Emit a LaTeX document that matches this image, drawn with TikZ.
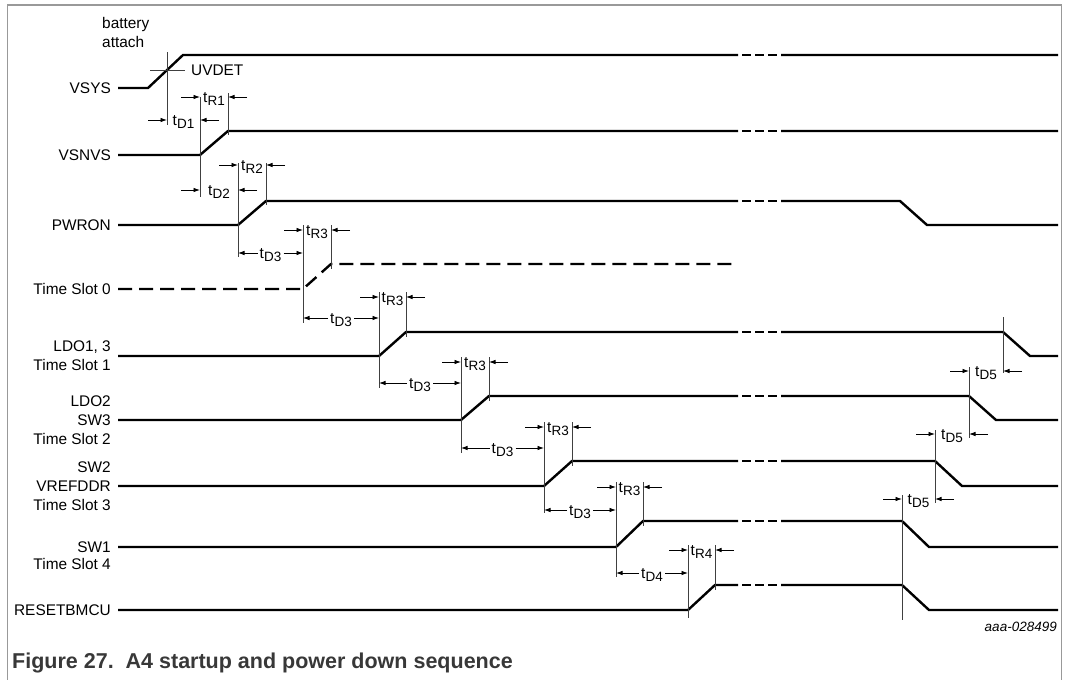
\documentclass[tikz,border=0pt]{standalone}
\usepackage{fontspec}
\setmainfont{Liberation Sans}
\usetikzlibrary{arrows.meta}
\newcommand\lab{\fontsize{15.4}{19}\selectfont}
\newcommand\tsb[1]{t\raisebox{-3.6pt}{\fontsize{13.5}{13.5}\selectfont #1}}
\tikzset{
  sig/.style={line width=2.4pt, line join=miter},
  brk/.style={line width=2.4pt, dash pattern=on 0pt off 4pt on 9pt off 4pt on 9pt off 4pt on 9pt off 4pt},
  dsig/.style={line width=2.4pt, dash pattern=on 14pt off 7pt},
  guide/.style={line width=0.8pt, black!75},
  dimarrow/.style={line width=0.8pt, -{Latex[length=6.5pt,width=4.5pt]}},
  siglab/.style={font=\lab, anchor=east, inner sep=0pt, align=right},
  tlab/.style={font=\lab, inner sep=0pt, anchor=base},
  frame/.style={line width=1.2pt, black!40},
}
% outside dimension arrows: x1 x2 y label name
\newcommand\odim[5]{%
  \draw[dimarrow] (#1-19,#3) -- (#1,#3);
  \draw[dimarrow] (#2+19,#3) -- (#2,#3);
  \node[tlab] (#5) at ({(#1+#2)/2},{#3+5}) {#4};}
% inside dimension arrows
\newcommand\idim[5]{%
  \node[tlab] (#5) at ({(#1+#2)/2},{#3+5}) {#4};
  \draw[dimarrow] ({(#1+#2)/2-13},#3) -- (#1,#3);
  \draw[dimarrow] ({(#1+#2)/2+13},#3) -- (#2,#3);}
% break in a high line at y
\newcommand\brkat[1]{\draw[brk] (738,#1) -- (781,#1);}

\begin{document}
\begin{tikzpicture}[x=1pt,y=-1pt]
\useasboundingbox (0,0) rectangle (1066,680);
\draw[frame] (7.5,680) -- (7.5,5) -- (1061.5,5) -- (1061.5,680);

% labels
\node[font=\lab, anchor=west, inner sep=0pt, align=left] (batt) at (102,32) {battery\\attach};
\node[siglab] (lvsys) at (111,88) {VSYS};
\node[siglab] (lvsnvs) at (111,155) {VSNVS};
\node[siglab] (lpwron) at (111,225) {PWRON};
\node[siglab] (lts0) at (111,289) {Time Slot 0};
\node[siglab] (lldo1) at (111,356) {LDO1, 3\\Time Slot 1};
\node[siglab] (lldo2) at (111,420) {LDO2\\SW3\\Time Slot 2};
\node[siglab] (lsw2) at (111,486) {SW2\\VREFDDR\\Time Slot 3};
\node[siglab] (lsw1) at (111,547) {SW1};
\node[siglab] (lts4) at (111,564) {Time Slot 4};
\node[siglab] (lrst) at (111,610) {RESETBMCU};
\node[font=\lab, anchor=west, inner sep=0pt] (uvdet) at (191,70) {UVDET};

% signals
\draw[sig] (118,88) -- (148,88) -- (183,55) -- (738,55) (781,55) -- (1058,55); \brkat{55}
\draw[sig] (118,155) -- (200,155) -- (228,131) -- (738,131) (781,131) -- (1058,131); \brkat{131}
\draw[sig] (118,225) -- (238,225) -- (266,201) -- (738,201) (781,201) -- (900,201) -- (927,225) -- (1058,225); \brkat{201}
\draw[dsig] (118,289) -- (303,289) -- (331,264) -- (738,264);
\draw[sig] (118,356) -- (379,356) -- (406,332) -- (738,332) (781,332) -- (1003,332) -- (1030,356) -- (1058,356); \brkat{332}
\draw[sig] (118,420) -- (461,420) -- (489,396) -- (738,396) (781,396) -- (969,396) -- (996,420) -- (1058,420); \brkat{396}
\draw[sig] (118,486) -- (544,486) -- (572,461) -- (738,461) (781,461) -- (935,461) -- (962,486) -- (1058,486); \brkat{461}
\draw[sig] (118,547) -- (616,547) -- (643,521) -- (738,521) (781,521) -- (902,521) -- (929,547) -- (1058,547); \brkat{521}
\draw[sig] (118,610) -- (688,610) -- (715,585) -- (738,585) (781,585) -- (902,585) -- (929,610) -- (1058,610); \brkat{585}

% guide lines
\draw[guide] (150,70) -- (185,70);
\draw[guide] (167,52) -- (167,125);
\draw[guide] (200,97) -- (200,197);
\draw[guide] (228,93) -- (228,135);
\draw[guide] (238,163) -- (238,257);
\draw[guide] (266,163) -- (266,205);
\draw[guide] (303,225) -- (303,323);
\draw[guide] (331,225) -- (331,269);
\draw[guide] (379,292) -- (379,388);
\draw[guide] (406,292) -- (406,337);
\draw[guide] (461,357) -- (461,453);
\draw[guide] (489,357) -- (489,401);
\draw[guide] (544,422) -- (544,513);
\draw[guide] (572,422) -- (572,466);
\draw[guide] (616,482) -- (616,577);
\draw[guide] (643,482) -- (643,526);
\draw[guide] (688,545) -- (688,618);
\draw[guide] (715,545) -- (715,590);
\draw[guide] (1003,317) -- (1003,373);
\draw[guide] (969,367) -- (969,438);
\draw[guide] (935,430) -- (935,503);
\draw[guide] (902,495) -- (902,620);

% timing dimensions
\odim{167}{200}{120}{\tsb{D1}}{td1}
\odim{200}{228}{97}{\tsb{R1}}{tr1}
\odim{200}{238}{190}{\tsb{D2}}{td2}
\odim{238}{266}{165}{\tsb{R2}}{tr2}
\idim{238}{303}{253}{\tsb{D3}}{td3a}
\odim{303}{331}{230}{\tsb{R3}}{tr3a}
\idim{303}{379}{318}{\tsb{D3}}{td3b}
\odim{379}{406}{297}{\tsb{R3}}{tr3b}
\idim{379}{461}{383}{\tsb{D3}}{td3c}
\odim{461}{489}{362}{\tsb{R3}}{tr3c}
\idim{461}{544}{448}{\tsb{D3}}{td3d}
\odim{544}{572}{427}{\tsb{R3}}{tr3d}
\idim{544}{616}{510}{\tsb{D3}}{td3e}
\odim{616}{643}{487}{\tsb{R3}}{tr3e}
\idim{616}{688}{573}{\tsb{D4}}{td4}
\odim{688}{715}{550}{\tsb{R4}}{tr4}
\odim{969}{1003}{371}{\tsb{D5}}{td5a}
\odim{935}{969}{434}{\tsb{D5}}{td5b}
\odim{902}{935}{499}{\tsb{D5}}{td5c}

\node[font=\fontsize{13.5}{16}\selectfont\itshape, anchor=east, inner sep=0pt] (code) at (1057,627) {aaa-028499};
\node[font=\fontsize{21.5}{25}\selectfont\bfseries, text=black!78, anchor=base west, inner sep=0pt] (cap) at (12,668) {Figure 27.\ \ A4 startup and power down sequence};
\end{tikzpicture}
\end{document}
